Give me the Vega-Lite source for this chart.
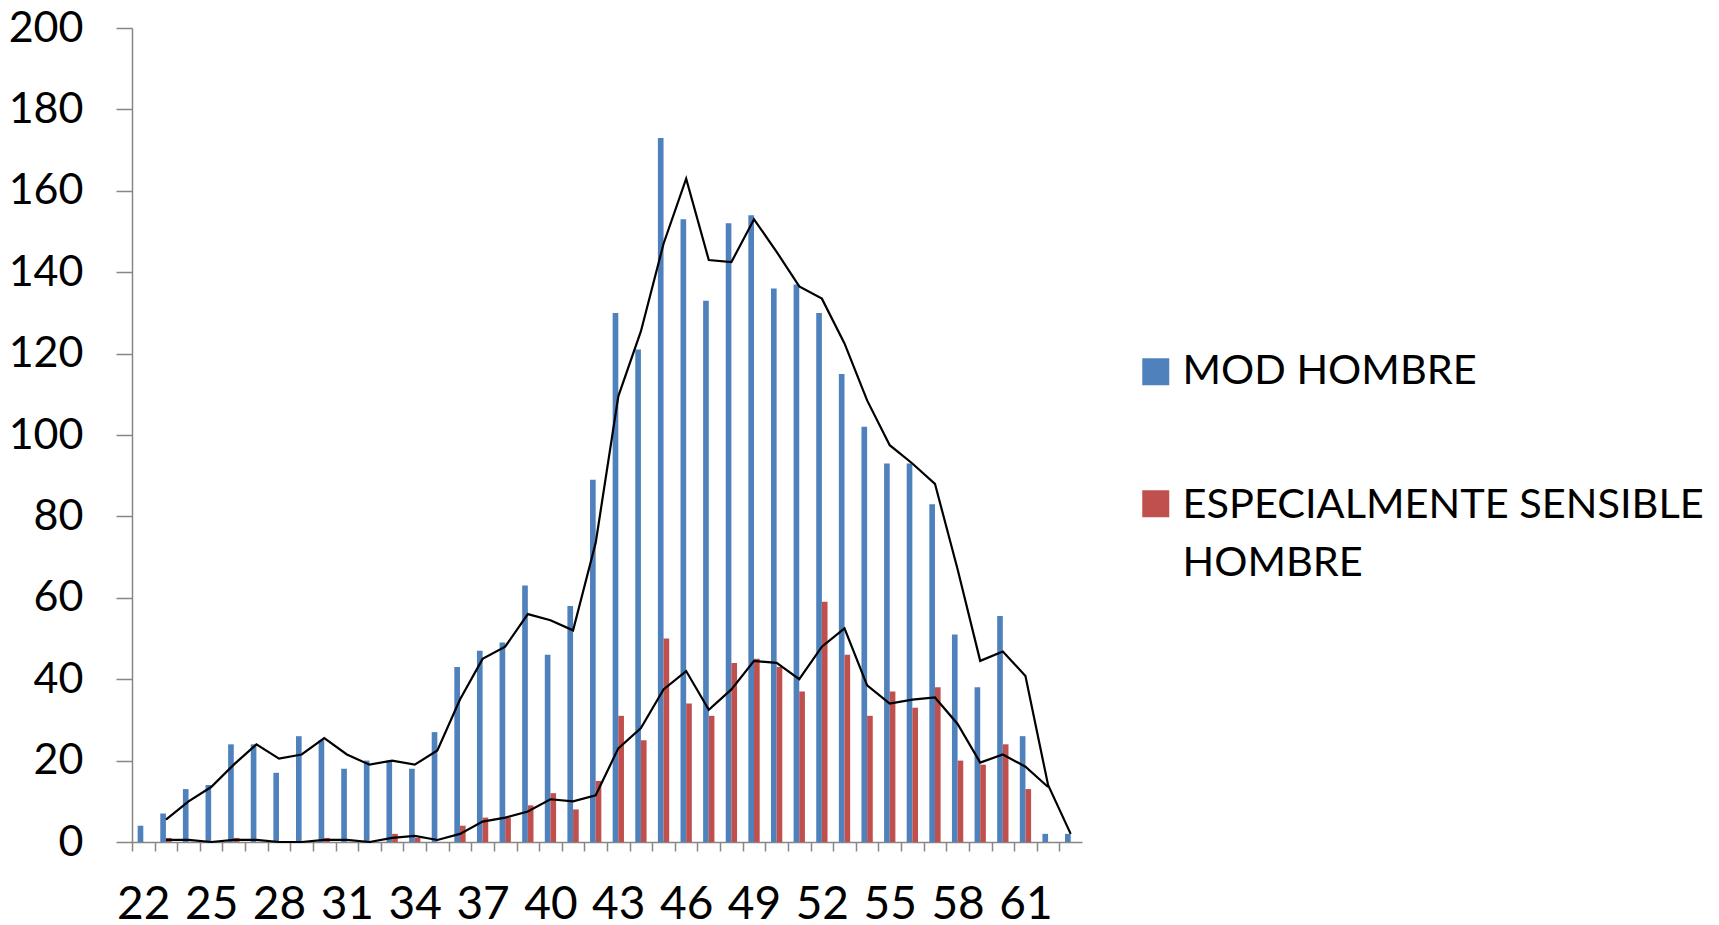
{
  "$schema": "https://vega.github.io/schema/vega-lite/v6.json",
  "width": 950,
  "height": 814,
  "autosize": {"type": "none"},
  "padding": {"left": 132, "top": 28, "right": 637, "bottom": 83},
  "background": "white",
  "config": {"view": {"stroke": null}, "font": "Lato"},
  "datasets": {
    "barras": [
      {"edad": 22, "serie": "MOD HOMBRE", "n": 4},
      {"edad": 23, "serie": "MOD HOMBRE", "n": 7},
      {"edad": 24, "serie": "MOD HOMBRE", "n": 13},
      {"edad": 25, "serie": "MOD HOMBRE", "n": 14},
      {"edad": 26, "serie": "MOD HOMBRE", "n": 24},
      {"edad": 27, "serie": "MOD HOMBRE", "n": 24},
      {"edad": 28, "serie": "MOD HOMBRE", "n": 17},
      {"edad": 29, "serie": "MOD HOMBRE", "n": 26},
      {"edad": 30, "serie": "MOD HOMBRE", "n": 25},
      {"edad": 31, "serie": "MOD HOMBRE", "n": 18},
      {"edad": 32, "serie": "MOD HOMBRE", "n": 20},
      {"edad": 33, "serie": "MOD HOMBRE", "n": 20},
      {"edad": 34, "serie": "MOD HOMBRE", "n": 18},
      {"edad": 35, "serie": "MOD HOMBRE", "n": 27},
      {"edad": 36, "serie": "MOD HOMBRE", "n": 43},
      {"edad": 37, "serie": "MOD HOMBRE", "n": 47},
      {"edad": 38, "serie": "MOD HOMBRE", "n": 49},
      {"edad": 39, "serie": "MOD HOMBRE", "n": 63},
      {"edad": 40, "serie": "MOD HOMBRE", "n": 46},
      {"edad": 41, "serie": "MOD HOMBRE", "n": 58},
      {"edad": 42, "serie": "MOD HOMBRE", "n": 89},
      {"edad": 43, "serie": "MOD HOMBRE", "n": 130},
      {"edad": 44, "serie": "MOD HOMBRE", "n": 121},
      {"edad": 45, "serie": "MOD HOMBRE", "n": 173},
      {"edad": 46, "serie": "MOD HOMBRE", "n": 153},
      {"edad": 47, "serie": "MOD HOMBRE", "n": 133},
      {"edad": 48, "serie": "MOD HOMBRE", "n": 152},
      {"edad": 49, "serie": "MOD HOMBRE", "n": 154},
      {"edad": 50, "serie": "MOD HOMBRE", "n": 136},
      {"edad": 51, "serie": "MOD HOMBRE", "n": 137},
      {"edad": 52, "serie": "MOD HOMBRE", "n": 130},
      {"edad": 53, "serie": "MOD HOMBRE", "n": 115},
      {"edad": 54, "serie": "MOD HOMBRE", "n": 102},
      {"edad": 55, "serie": "MOD HOMBRE", "n": 93},
      {"edad": 56, "serie": "MOD HOMBRE", "n": 93},
      {"edad": 57, "serie": "MOD HOMBRE", "n": 83},
      {"edad": 58, "serie": "MOD HOMBRE", "n": 51},
      {"edad": 59, "serie": "MOD HOMBRE", "n": 38},
      {"edad": 60, "serie": "MOD HOMBRE", "n": 55.5},
      {"edad": 61, "serie": "MOD HOMBRE", "n": 26},
      {"edad": 62, "serie": "MOD HOMBRE", "n": 2},
      {"edad": 63, "serie": "MOD HOMBRE", "n": 2},
      {"edad": 23, "serie": "ESPECIALMENTE SENSIBLE HOMBRE", "n": 1},
      {"edad": 26, "serie": "ESPECIALMENTE SENSIBLE HOMBRE", "n": 1},
      {"edad": 30, "serie": "ESPECIALMENTE SENSIBLE HOMBRE", "n": 1},
      {"edad": 33, "serie": "ESPECIALMENTE SENSIBLE HOMBRE", "n": 2},
      {"edad": 34, "serie": "ESPECIALMENTE SENSIBLE HOMBRE", "n": 1},
      {"edad": 36, "serie": "ESPECIALMENTE SENSIBLE HOMBRE", "n": 4},
      {"edad": 37, "serie": "ESPECIALMENTE SENSIBLE HOMBRE", "n": 6},
      {"edad": 38, "serie": "ESPECIALMENTE SENSIBLE HOMBRE", "n": 6},
      {"edad": 39, "serie": "ESPECIALMENTE SENSIBLE HOMBRE", "n": 9},
      {"edad": 40, "serie": "ESPECIALMENTE SENSIBLE HOMBRE", "n": 12},
      {"edad": 41, "serie": "ESPECIALMENTE SENSIBLE HOMBRE", "n": 8},
      {"edad": 42, "serie": "ESPECIALMENTE SENSIBLE HOMBRE", "n": 15},
      {"edad": 43, "serie": "ESPECIALMENTE SENSIBLE HOMBRE", "n": 31},
      {"edad": 44, "serie": "ESPECIALMENTE SENSIBLE HOMBRE", "n": 25},
      {"edad": 45, "serie": "ESPECIALMENTE SENSIBLE HOMBRE", "n": 50},
      {"edad": 46, "serie": "ESPECIALMENTE SENSIBLE HOMBRE", "n": 34},
      {"edad": 47, "serie": "ESPECIALMENTE SENSIBLE HOMBRE", "n": 31},
      {"edad": 48, "serie": "ESPECIALMENTE SENSIBLE HOMBRE", "n": 44},
      {"edad": 49, "serie": "ESPECIALMENTE SENSIBLE HOMBRE", "n": 45},
      {"edad": 50, "serie": "ESPECIALMENTE SENSIBLE HOMBRE", "n": 43},
      {"edad": 51, "serie": "ESPECIALMENTE SENSIBLE HOMBRE", "n": 37},
      {"edad": 52, "serie": "ESPECIALMENTE SENSIBLE HOMBRE", "n": 59},
      {"edad": 53, "serie": "ESPECIALMENTE SENSIBLE HOMBRE", "n": 46},
      {"edad": 54, "serie": "ESPECIALMENTE SENSIBLE HOMBRE", "n": 31},
      {"edad": 55, "serie": "ESPECIALMENTE SENSIBLE HOMBRE", "n": 37},
      {"edad": 56, "serie": "ESPECIALMENTE SENSIBLE HOMBRE", "n": 33},
      {"edad": 57, "serie": "ESPECIALMENTE SENSIBLE HOMBRE", "n": 38},
      {"edad": 58, "serie": "ESPECIALMENTE SENSIBLE HOMBRE", "n": 20},
      {"edad": 59, "serie": "ESPECIALMENTE SENSIBLE HOMBRE", "n": 19},
      {"edad": 60, "serie": "ESPECIALMENTE SENSIBLE HOMBRE", "n": 24},
      {"edad": 61, "serie": "ESPECIALMENTE SENSIBLE HOMBRE", "n": 13}
    ],
    "medias": [
      {"edad": 23, "serie": "MOD", "media": 5.5},
      {"edad": 24, "serie": "MOD", "media": 10},
      {"edad": 25, "serie": "MOD", "media": 13.5},
      {"edad": 26, "serie": "MOD", "media": 19},
      {"edad": 27, "serie": "MOD", "media": 24},
      {"edad": 28, "serie": "MOD", "media": 20.5},
      {"edad": 29, "serie": "MOD", "media": 21.5},
      {"edad": 30, "serie": "MOD", "media": 25.5},
      {"edad": 31, "serie": "MOD", "media": 21.5},
      {"edad": 32, "serie": "MOD", "media": 19},
      {"edad": 33, "serie": "MOD", "media": 20},
      {"edad": 34, "serie": "MOD", "media": 19},
      {"edad": 35, "serie": "MOD", "media": 22.5},
      {"edad": 36, "serie": "MOD", "media": 35},
      {"edad": 37, "serie": "MOD", "media": 45},
      {"edad": 38, "serie": "MOD", "media": 48},
      {"edad": 39, "serie": "MOD", "media": 56},
      {"edad": 40, "serie": "MOD", "media": 54.5},
      {"edad": 41, "serie": "MOD", "media": 52},
      {"edad": 42, "serie": "MOD", "media": 73.5},
      {"edad": 43, "serie": "MOD", "media": 109.5},
      {"edad": 44, "serie": "MOD", "media": 125.5},
      {"edad": 45, "serie": "MOD", "media": 147},
      {"edad": 46, "serie": "MOD", "media": 163},
      {"edad": 47, "serie": "MOD", "media": 143},
      {"edad": 48, "serie": "MOD", "media": 142.5},
      {"edad": 49, "serie": "MOD", "media": 153},
      {"edad": 50, "serie": "MOD", "media": 145},
      {"edad": 51, "serie": "MOD", "media": 136.5},
      {"edad": 52, "serie": "MOD", "media": 133.5},
      {"edad": 53, "serie": "MOD", "media": 122.5},
      {"edad": 54, "serie": "MOD", "media": 108.5},
      {"edad": 55, "serie": "MOD", "media": 97.5},
      {"edad": 56, "serie": "MOD", "media": 93},
      {"edad": 57, "serie": "MOD", "media": 88},
      {"edad": 58, "serie": "MOD", "media": 67},
      {"edad": 59, "serie": "MOD", "media": 44.5},
      {"edad": 60, "serie": "MOD", "media": 46.8},
      {"edad": 61, "serie": "MOD", "media": 40.8},
      {"edad": 62, "serie": "MOD", "media": 14},
      {"edad": 63, "serie": "MOD", "media": 2},
      {"edad": 23, "serie": "ESP", "media": 0.5},
      {"edad": 24, "serie": "ESP", "media": 0.5},
      {"edad": 25, "serie": "ESP", "media": 0},
      {"edad": 26, "serie": "ESP", "media": 0.5},
      {"edad": 27, "serie": "ESP", "media": 0.5},
      {"edad": 28, "serie": "ESP", "media": 0},
      {"edad": 29, "serie": "ESP", "media": 0},
      {"edad": 30, "serie": "ESP", "media": 0.5},
      {"edad": 31, "serie": "ESP", "media": 0.5},
      {"edad": 32, "serie": "ESP", "media": 0},
      {"edad": 33, "serie": "ESP", "media": 1},
      {"edad": 34, "serie": "ESP", "media": 1.5},
      {"edad": 35, "serie": "ESP", "media": 0.5},
      {"edad": 36, "serie": "ESP", "media": 2},
      {"edad": 37, "serie": "ESP", "media": 5},
      {"edad": 38, "serie": "ESP", "media": 6},
      {"edad": 39, "serie": "ESP", "media": 7.5},
      {"edad": 40, "serie": "ESP", "media": 10.5},
      {"edad": 41, "serie": "ESP", "media": 10},
      {"edad": 42, "serie": "ESP", "media": 11.5},
      {"edad": 43, "serie": "ESP", "media": 23},
      {"edad": 44, "serie": "ESP", "media": 28},
      {"edad": 45, "serie": "ESP", "media": 37.5},
      {"edad": 46, "serie": "ESP", "media": 42},
      {"edad": 47, "serie": "ESP", "media": 32.5},
      {"edad": 48, "serie": "ESP", "media": 37.5},
      {"edad": 49, "serie": "ESP", "media": 44.5},
      {"edad": 50, "serie": "ESP", "media": 44},
      {"edad": 51, "serie": "ESP", "media": 40},
      {"edad": 52, "serie": "ESP", "media": 48},
      {"edad": 53, "serie": "ESP", "media": 52.5},
      {"edad": 54, "serie": "ESP", "media": 38.5},
      {"edad": 55, "serie": "ESP", "media": 34},
      {"edad": 56, "serie": "ESP", "media": 35},
      {"edad": 57, "serie": "ESP", "media": 35.5},
      {"edad": 58, "serie": "ESP", "media": 29},
      {"edad": 59, "serie": "ESP", "media": 19.5},
      {"edad": 60, "serie": "ESP", "media": 21.5},
      {"edad": 61, "serie": "ESP", "media": 18.5},
      {"edad": 62, "serie": "ESP", "media": 13.5}
    ]
  },
  "layer": [
    {
      "data": {"name": "barras"},
      "mark": {"type": "bar"},
      "encoding": {
        "x": {
          "field": "edad",
          "type": "ordinal",
          "scale": {
            "domain": [22,23,24,25,26,27,28,29,30,31,32,33,34,35,36,37,38,39,40,41,42,43,44,45,46,47,48,49,50,51,52,53,54,55,56,57,58,59,60,61,62,63],
            "paddingInner": 0,
            "paddingOuter": 0
          },
          "axis": {
            "title": null,
            "labelExpr": "(datum.value - 22) % 3 === 0 ? datum.label : ''",
            "labelAngle": 0,
            "tickOffset": -11.31,
            "labelOffset": 11.31,
            "tickSize": 9,
            "tickColor": "#868686",
            "tickWidth": 1.5,
            "domainColor": "#868686",
            "domainWidth": 1.5,
            "labelFontSize": 46,
            "labelColor": "black",
            "labelPadding": 31,
            "labelOverlap": false,
            "labelFlush": false,
            "labelBound": false,
            "grid": false
          }
        },
        "xOffset": {
          "field": "serie",
          "type": "nominal",
          "scale": {
            "domain": ["MOD HOMBRE", "ESPECIALMENTE SENSIBLE HOMBRE"],
            "paddingInner": 0,
            "paddingOuter": 1
          }
        },
        "y": {
          "field": "n",
          "type": "quantitative",
          "scale": {"domain": [0, 200], "nice": false},
          "axis": {
            "title": null,
            "values": [0, 20, 40, 60, 80, 100, 120, 140, 160, 180, 200],
            "tickSize": 16,
            "tickColor": "#868686",
            "tickWidth": 1.5,
            "domainColor": "#868686",
            "domainWidth": 1.5,
            "labelFontSize": 43,
            "labelColor": "black",
            "labelPadding": 33,
            "grid": false
          }
        },
        "color": {
          "field": "serie",
          "type": "nominal",
          "scale": {
            "domain": ["MOD HOMBRE", "ESPECIALMENTE SENSIBLE HOMBRE"],
            "range": ["#4F81BD", "#C0504D"]
          },
          "legend": {
            "title": null,
            "orient": "none",
            "legendX": 1003,
            "legendY": 323,
            "padding": 0,
            "symbolType": "square",
            "symbolSize": 729,
            "symbolStrokeWidth": 0,
            "labelFontSize": 41.5,
            "labelColor": "black",
            "labelLimit": 1000,
            "labelOffset": 6,
            "rowPadding": 90,
            "labelExpr": "datum.label === 'ESPECIALMENTE SENSIBLE HOMBRE' ? ['ESPECIALMENTE SENSIBLE', 'HOMBRE'] : datum.label",
            "encode": {
              "labels": {
                "update": {
                  "lineHeight": {"value": 58},
                  "dy": {"signal": "datum.value === 'ESPECIALMENTE SENSIBLE HOMBRE' ? 2 : 0"}
                }
              }
            }
          }
        }
      }
    },
    {
      "data": {"name": "medias"},
      "mark": {"type": "line", "color": "black", "strokeWidth": 2.2},
      "encoding": {
        "x": {"field": "edad", "type": "ordinal"},
        "y": {"field": "media", "type": "quantitative"},
        "detail": {"field": "serie", "type": "nominal"}
      }
    }
  ]
}
